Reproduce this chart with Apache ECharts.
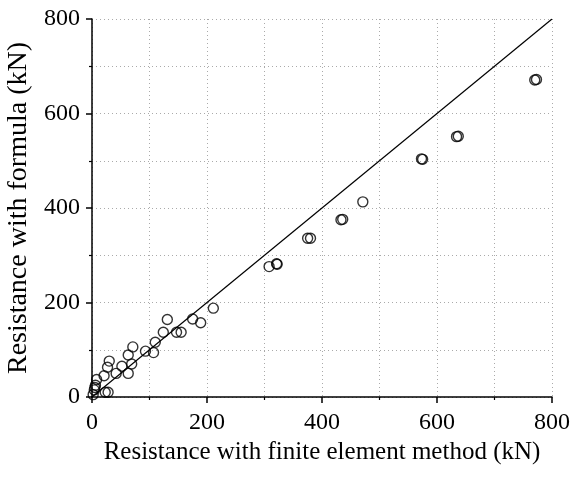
<!DOCTYPE html>
<html><head><meta charset="utf-8">
<script src="https://cdn.jsdelivr.net/npm/echarts@6/dist/echarts.min.js"></script>
<style>html,body{margin:0;padding:0;background:#fff}#c{width:573px;height:480px}</style>
</head><body><div id="c"></div>
<script>
const xTitle = 'Resistance with finite element method (kN)';
const yTitle = 'Resistance with formula (kN)';
const feValues = [773,770,637,634,575,573,471,433,436,375,380,308,322,321,211,131,175,189,124,147,155,110,71,93,107,63,69,52,42,63,30,27,21,8,6,5,4,23,28,2];
const formulaValues = [672,671,552,551,503,504,413,375,376,336,336,276,281,282,188,164,165,157,137,137,137,116,106,97,94,89,70,65,50,50,76,63,45,37,25,20,15,10,10,5];
const refLineX = [0,800];
const refLineY = [0,800];
const axisMin = 0, axisMax = 800, axisStep = 200;

const pts = feValues.map((v,i)=>[v, formulaValues[i]]);
const linePts = refLineX.map((v,i)=>[v, refLineY[i]]);
const font = 'Liberation Serif';
const axisCommon = {
  type:'value', min:axisMin, max:axisMax, interval:axisStep,
  axisLine:{show:true, onZero:false, lineStyle:{color:'#000', width:1.5}},
  axisTick:{show:true, inside:false, length:6, lineStyle:{color:'#000', width:1.5}},
  minorTick:{show:true, splitNumber:2, length:3, lineStyle:{color:'#000', width:1.2}},
  splitLine:{show:true, lineStyle:{color:'#aaa', type:[1,3], width:1}},
  minorSplitLine:{show:true, lineStyle:{color:'#aaa', type:[1,3], width:1}},
  axisLabel:{color:'#000', fontFamily:font, fontSize:24, margin:14},
  nameLocation:'middle',
  nameTextStyle:{color:'#000', fontFamily:font, fontSize:25}
};
const chart = echarts.init(document.getElementById('c'), null, {renderer:'canvas'});
chart.setOption({
  backgroundColor:'#fff',
  animation:false,
  grid:{left:92, right:21, top:19, bottom:83, containLabel:false, outerBoundsMode:'none'},
  xAxis:Object.assign({}, axisCommon, {name:xTitle, nameGap:40}),
  yAxis:Object.assign({}, axisCommon, {name:yTitle, nameGap:55,
    axisLabel:Object.assign({}, axisCommon.axisLabel, {margin:12}),
    nameTextStyle:{color:'#000', fontFamily:font, fontSize:28}}),
  series:[
    {type:'line', data:linePts, symbol:'none', lineStyle:{color:'#000', width:1.2}, z:2},
    {type:'scatter', data:pts, symbol:'circle', symbolSize:10,
     itemStyle:{color:'rgba(0,0,0,0)', borderColor:'#000', borderWidth:1.4}, z:3}
  ]
});
</script></body></html>
